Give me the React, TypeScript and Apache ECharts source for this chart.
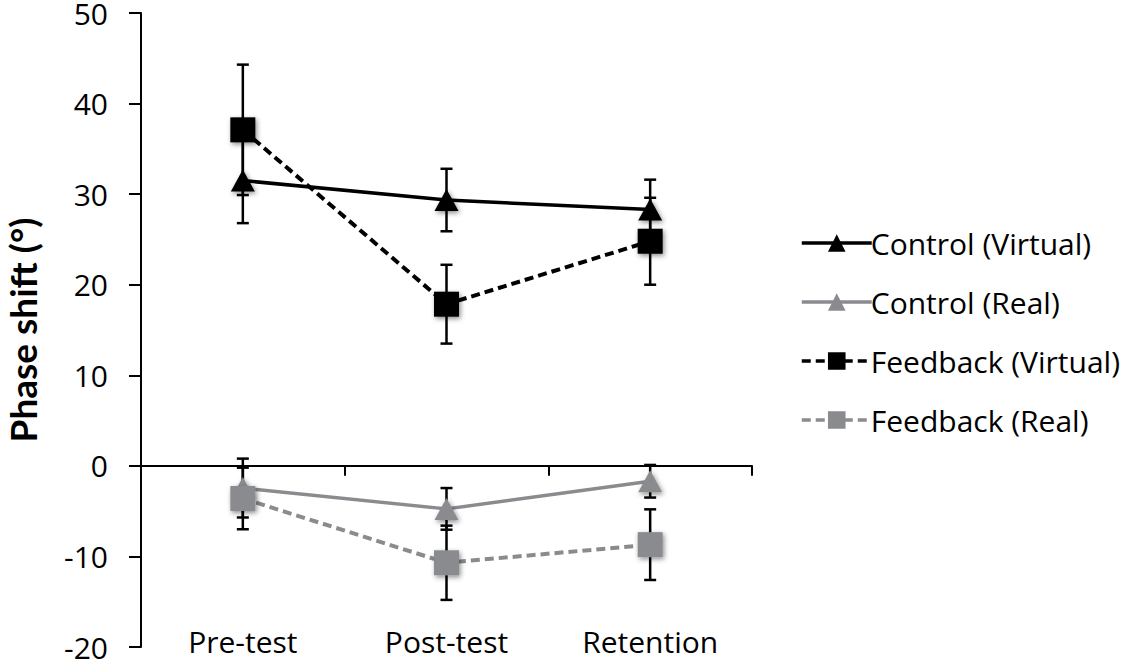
import React, { useEffect, useRef } from "react";
import * as echarts from "echarts";

const categories = ["Pre-test", "Post-test", "Retention"];
const controlVirtual = [31.5, 29.35, 28.3];
const controlVirtualErr = [4.7, 3.45, 3.3];
const controlReal = [-2.45, -4.75, -1.7];
const controlRealErr = [3.25, 2.3, 1.8];
const feedbackVirtual = [37.1, 17.85, 24.8];
const feedbackVirtualErr = [7.2, 4.35, 4.8];
const feedbackReal = [-3.6, -10.7, -8.7];
const feedbackRealErr = [3.4, 4.1, 3.9];
const seriesNames = ["Control (Virtual)", "Control (Real)", "Feedback (Virtual)", "Feedback (Real)"];

const BLACK = "#000000";
const GRAY = "#8a8b8f";
const FONT = "'Open Sans', Lato, sans-serif";
const NAME_FONT = "Lato, 'Open Sans', sans-serif";

function errorSeries(name: string, vals: number[], errs: number[]) {
  return {
    name: name + " err",
    type: "custom",
    xAxisIndex: 0,
    yAxisIndex: 0,
    z: 1,
    silent: true,
    data: vals.map((v, i) => [i, v, errs[i]]),
    encode: { x: 0, y: 1 },
    renderItem: (params: any, api: any) => {
      const x = api.value(0);
      const y = api.value(1);
      const e = api.value(2);
      const top = api.coord([x, y + e]);
      const bot = api.coord([x, y - e]);
      const hw = 6;
      const st = { stroke: BLACK, lineWidth: 2.5 };
      return {
        type: "group",
        children: [
          { type: "line", shape: { x1: top[0], y1: top[1], x2: bot[0], y2: bot[1] }, style: st },
          { type: "line", shape: { x1: top[0] - hw, y1: top[1], x2: top[0] + hw, y2: top[1] }, style: st },
          { type: "line", shape: { x1: bot[0] - hw, y1: bot[1], x2: bot[0] + hw, y2: bot[1] }, style: st },
        ],
      };
    },
  };
}

function lineSeries(name: string, vals: number[], color: string, dashed: boolean, symbol: string) {
  const shadow = {
    shadowBlur: 5,
    shadowColor: "rgba(0,0,0,0.45)",
    shadowOffsetX: 1.5,
    shadowOffsetY: 2,
  };
  return {
    name,
    type: "line",
    xAxisIndex: 0,
    yAxisIndex: 0,
    z: 3,
    data: vals,
    symbol,
    symbolSize: symbol === "rect" ? [25, 25] : [24, 22],
    lineStyle: { color, width: dashed ? 4 : 3.5, type: dashed ? [9, 5] : "solid" },
    itemStyle: { color, ...shadow },
  };
}

export default function App() {
  const ref = useRef<HTMLDivElement>(null);
  useEffect(() => {
    if (!ref.current) return;
    const chart = echarts.init(ref.current, undefined, { renderer: "svg" });
    chart.setOption({
      animation: false,
      backgroundColor: "#ffffff",
      textStyle: { fontFamily: FONT },
      grid: {
        left: 141,
        right: 376,
        top: 13,
        bottom: 21,
        containLabel: false,
        outerBoundsMode: "none",
      },
      legend: {
        orient: "vertical",
        left: 795,
        top: 223,
        itemWidth: 70,
        itemHeight: 22,
        itemGap: 29,
        data: seriesNames,
        lineStyle: { width: 3.5 },
        textStyle: { fontSize: 30, color: BLACK, fontFamily: FONT, padding: [0, 0, 0, -6] },
      },
      xAxis: [
        {
          type: "category",
          data: categories,
          position: "bottom",
          axisLine: { show: false, onZero: false },
          axisTick: { show: false },
          axisLabel: { inside: true, margin: -9, fontSize: 30, color: BLACK, fontFamily: FONT },
          splitLine: { show: false },
        },
        {
          type: "category",
          data: categories,
          position: "bottom",
          axisLine: { show: true, onZero: true, lineStyle: { color: BLACK, width: 2 } },
          axisTick: { show: true, inside: false, length: 10, lineStyle: { color: BLACK, width: 2 } },
          axisLabel: { show: false },
          splitLine: { show: false },
        },
      ],
      yAxis: {
        type: "value",
        min: -20,
        max: 50,
        interval: 10,
        name: "Phase shift (°)",
        nameLocation: "middle",
        nameRotate: 90,
        nameGap: 104,
        nameTextStyle: {
          fontSize: 37,
          fontWeight: "bold",
          color: BLACK,
          fontFamily: NAME_FONT,
          lineHeight: 30,
        },
        axisLine: { show: true, lineStyle: { color: BLACK, width: 2 } },
        axisTick: { show: true, inside: false, length: 12, lineStyle: { color: BLACK, width: 2 } },
        axisLabel: { fontSize: 30, color: BLACK, margin: 33, fontFamily: FONT, lineHeight: 20 },
        splitLine: { show: false },
      },
      series: [
        errorSeries(seriesNames[0], controlVirtual, controlVirtualErr),
        errorSeries(seriesNames[1], controlReal, controlRealErr),
        errorSeries(seriesNames[2], feedbackVirtual, feedbackVirtualErr),
        errorSeries(seriesNames[3], feedbackReal, feedbackRealErr),
        lineSeries(seriesNames[0], controlVirtual, BLACK, false, "triangle"),
        lineSeries(seriesNames[1], controlReal, GRAY, false, "triangle"),
        lineSeries(seriesNames[2], feedbackVirtual, BLACK, true, "rect"),
        lineSeries(seriesNames[3], feedbackReal, GRAY, true, "rect"),
      ],
    });
    return () => chart.dispose();
  }, []);
  return (
    <div
      ref={ref}
      style={{ position: "fixed", left: 0, top: 0, width: 1128, height: 668, background: "#fff" }}
    />
  );
}
